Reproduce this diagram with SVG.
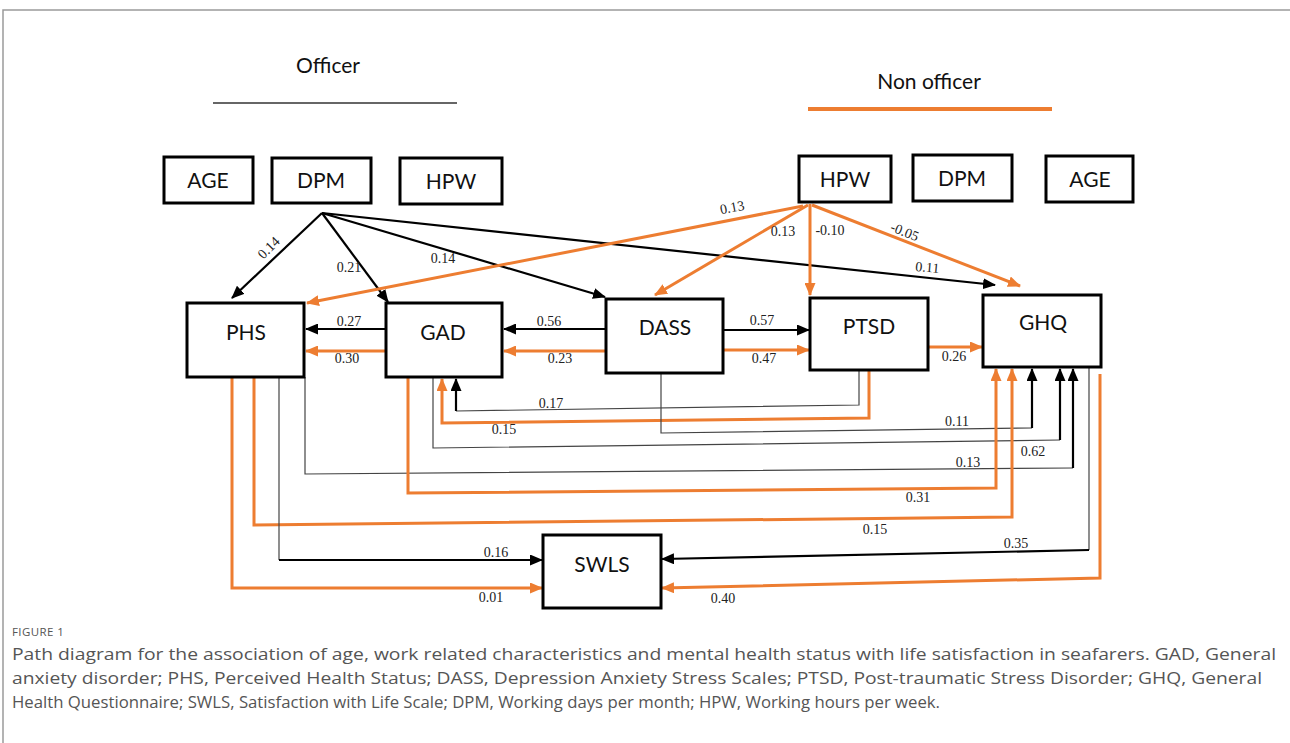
<svg xmlns="http://www.w3.org/2000/svg" width="1290" height="743" viewBox="0 0 1290 743">
<defs>
<marker id="ab" markerUnits="userSpaceOnUse" markerWidth="13" markerHeight="11" refX="12" refY="5.5" orient="auto"><path d="M0,0 L13,5.5 L0,11 z" fill="#000"/></marker>
<marker id="ao" markerUnits="userSpaceOnUse" markerWidth="13" markerHeight="11" refX="12" refY="5.5" orient="auto"><path d="M0,0 L13,5.5 L0,11 z" fill="#ED7D31"/></marker>
<style>
.box{fill:#fff;stroke:#000;stroke-width:3}
.bt{font-family:Lato,"Open Sans",sans-serif;font-size:21px;fill:#111;text-anchor:middle}
.lb{font-family:"Liberation Serif",serif;font-size:14px;fill:#222;text-anchor:middle}
.k{fill:none;stroke:#000;stroke-width:2.2}
.o{fill:none;stroke:#ED7D31;stroke-width:3}
.t{fill:none;stroke:#444;stroke-width:1.2}
.cap{font-family:"Open Sans","Liberation Sans",sans-serif;font-size:16px;fill:#555}
</style>
</defs>
<rect width="1290" height="743" fill="#fff"/>
<path d="M3,743 L3,10 L1290,10" fill="none" stroke="#9a9a9a" stroke-width="1.5"/>
<g id="legend">
<text x="328" y="73" class="bt">Officer</text>
<line x1="213" y1="103" x2="457" y2="103" stroke="#666" stroke-width="2"/>
<text x="929" y="89" class="bt">Non officer</text>
<line x1="808" y1="109" x2="1052" y2="109" stroke="#ED7D31" stroke-width="4"/>
</g>
<g id="connectors">
<path class="k" d="M322,213 L232,298" marker-end="url(#ab)"/>
<path class="k" d="M322,213 L388,302" marker-end="url(#ab)"/>
<path class="k" d="M322,213 L605,297" marker-end="url(#ab)"/>
<path class="k" d="M322,213 L995,285" marker-end="url(#ab)"/>
<path class="o" d="M803,206 L307,303" marker-end="url(#ao)"/>
<path class="o" d="M808,205 L655,295" marker-end="url(#ao)"/>
<path class="o" d="M810,204 L810,295" marker-end="url(#ao)"/>
<path class="o" d="M812,205 L1020,286" marker-end="url(#ao)"/>
<path class="k" d="M386,329 L306,329" marker-end="url(#ab)"/>
<path class="o" d="M386,351 L306,351" marker-end="url(#ao)"/>
<path class="k" d="M606,329 L504,329" marker-end="url(#ab)"/>
<path class="o" d="M606,351 L504,351" marker-end="url(#ao)"/>
<path class="k" d="M723,330 L809,330" marker-end="url(#ab)"/>
<path class="o" d="M723,350 L809,350" marker-end="url(#ao)"/>
<path class="o" d="M928,347 L982,347" marker-end="url(#ao)"/>
<path class="t" d="M859,370 L859,405 L456,411"/>
<path class="k" d="M456,411 L456,379" marker-end="url(#ab)"/>
<path class="o" d="M869,370 L869,418 L442,423 L442,379" marker-end="url(#ao)"/>
<path class="t" d="M661,373 L661,433 L1032,428"/>
<path class="k" d="M1032,428 L1032,369" marker-end="url(#ab)"/>
<path class="t" d="M433,377 L433,448 L1060,440"/>
<path class="k" d="M1060,440 L1060,369" marker-end="url(#ab)"/>
<path class="t" d="M305,377 L305,474 L1073,468"/>
<path class="k" d="M1073,468 L1073,369" marker-end="url(#ab)"/>
<path class="o" d="M408,377 L408,493 L996,488 L996,369" marker-end="url(#ao)"/>
<path class="o" d="M254,377 L254,525 L1012,517 L1012,369" marker-end="url(#ao)"/>
<path class="t" d="M279,377 L279,560"/>
<path class="k" d="M279,560 L542,560" marker-end="url(#ab)"/>
<path class="o" d="M232,377 L232,588 L542,588" marker-end="url(#ao)"/>
<path class="t" d="M1089,368 L1089,550"/>
<path class="k" d="M1089,550 L662,559" marker-end="url(#ab)"/>
<path class="o" d="M1100,374 L1100,578 L662,588" marker-end="url(#ao)"/>
</g>
<g id="labels">
<text class="lb" transform="translate(272,251) rotate(-45)">0.14</text>
<text class="lb" x="349" y="272">0.21</text>
<text class="lb" x="443" y="263">0.14</text>
<text class="lb" transform="translate(927,272) rotate(5)">0.11</text>
<text class="lb" transform="translate(733,212) rotate(-11)">0.13</text>
<text class="lb" x="783" y="236">0.13</text>
<text class="lb" x="830" y="235">-0.10</text>
<text class="lb" transform="translate(903,236) rotate(22)">-0.05</text>
<text class="lb" x="349" y="326">0.27</text>
<text class="lb" x="347" y="363">0.30</text>
<text class="lb" x="549" y="326">0.56</text>
<text class="lb" x="560" y="363">0.23</text>
<text class="lb" x="762" y="325">0.57</text>
<text class="lb" x="764" y="363">0.47</text>
<text class="lb" x="954" y="361">0.26</text>
<text class="lb" x="551" y="408">0.17</text>
<text class="lb" x="504" y="434">0.15</text>
<text class="lb" x="957" y="426">0.11</text>
<text class="lb" x="1033" y="456">0.62</text>
<text class="lb" x="968" y="467">0.13</text>
<text class="lb" x="918" y="502">0.31</text>
<text class="lb" x="875" y="534">0.15</text>
<text class="lb" x="496" y="557">0.16</text>
<text class="lb" x="491" y="602">0.01</text>
<text class="lb" x="1016" y="548">0.35</text>
<text class="lb" x="723" y="603">0.40</text>
</g>
<g id="node-age-o"><rect class="box" x="164" y="157" width="89" height="46"/><text class="bt" x="208" y="188">AGE</text></g>
<g id="node-dpm-o"><rect class="box" x="272" y="158" width="99" height="45"/><text class="bt" x="321" y="188">DPM</text></g>
<g id="node-hpw-o"><rect class="box" x="400" y="158" width="102" height="46"/><text class="bt" x="451" y="189">HPW</text></g>
<g id="node-hpw-n"><rect class="box" x="799" y="156" width="92" height="46"/><text class="bt" x="845" y="187">HPW</text></g>
<g id="node-dpm-n"><rect class="box" x="913" y="155" width="99" height="46"/><text class="bt" x="962" y="186">DPM</text></g>
<g id="node-age-n"><rect class="box" x="1046" y="156" width="87" height="46"/><text class="bt" x="1090" y="187">AGE</text></g>
<g id="node-phs"><rect class="box" x="187" y="303" width="117" height="74"/><text class="bt" x="246" y="340">PHS</text></g>
<g id="node-gad"><rect class="box" x="386" y="303" width="116" height="74"/><text class="bt" x="443" y="340">GAD</text></g>
<g id="node-dass"><rect class="box" x="606" y="299" width="117" height="74"/><text class="bt" x="665" y="335">DASS</text></g>
<g id="node-ptsd"><rect class="box" x="810" y="298" width="118" height="72"/><text class="bt" x="869" y="334">PTSD</text></g>
<g id="node-ghq"><rect class="box" x="983" y="295" width="118" height="72"/><text class="bt" x="1043" y="330">GHQ</text></g>
<g id="node-swls"><rect class="box" x="543" y="535" width="118" height="73"/><text class="bt" x="602" y="572">SWLS</text></g>
<g id="caption">
<text x="12" y="636" font-family="'Open Sans','Liberation Sans',sans-serif" font-size="11.5" fill="#555" letter-spacing="0.4">FIGURE 1</text>
<text class="cap" x="12" y="660" textLength="1264" lengthAdjust="spacingAndGlyphs">Path diagram for the association of age, work related characteristics and mental health status with life satisfaction in seafarers. GAD, General</text>
<text class="cap" x="12" y="684" textLength="1250" lengthAdjust="spacingAndGlyphs">anxiety disorder; PHS, Perceived Health Status; DASS, Depression Anxiety Stress Scales; PTSD, Post-traumatic Stress Disorder; GHQ, General</text>
<text class="cap" x="12" y="708" textLength="928" lengthAdjust="spacingAndGlyphs">Health Questionnaire; SWLS, Satisfaction with Life Scale; DPM, Working days per month; HPW, Working hours per week.</text>
</g>
</svg>
